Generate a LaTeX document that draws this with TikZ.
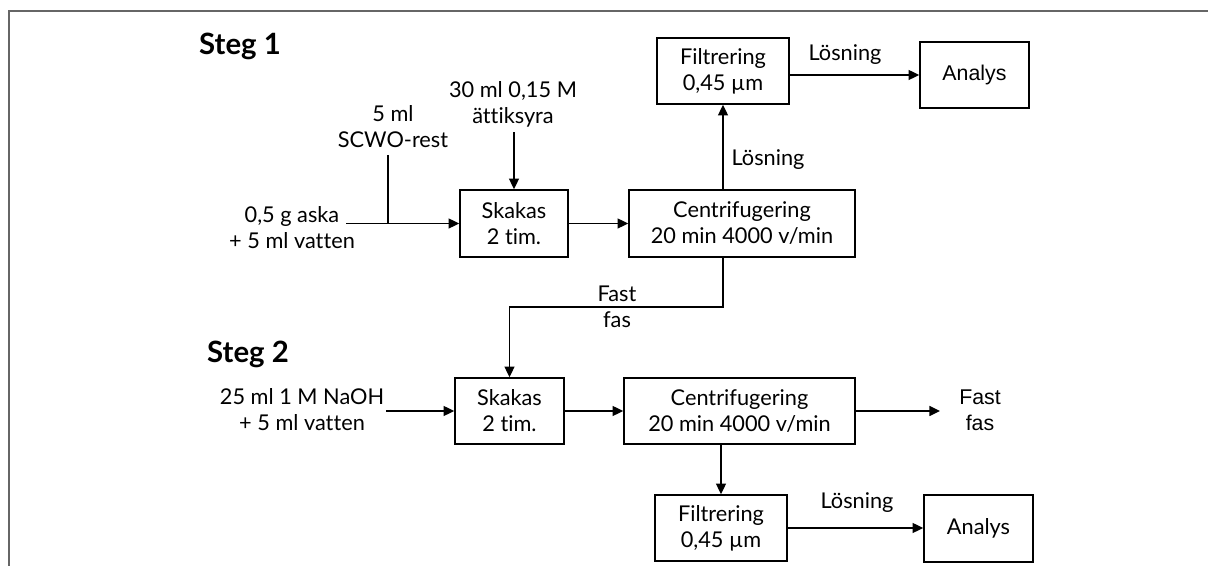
\documentclass[tikz,border=0pt]{standalone}
\usepackage{fontspec}
\setmainfont{Lato}[Ligatures=NoCommon]
\newfontfamily\arialf{Liberation Sans}
\usetikzlibrary{arrows.meta}
\begin{document}
\begin{tikzpicture}[x=0.75pt,y=-0.75pt,
  box/.style={draw=black,line width=1.2pt,rectangle,inner sep=0pt,align=center,font=\fontsize{16.3}{19.5}\selectfont},
  lbl/.style={inner sep=0pt,align=center,font=\fontsize{16.3}{19.5}\selectfont},
  ttl/.style={inner sep=0pt,font=\fontsize{22}{26}\selectfont\bfseries},
  arr/.style={line width=1.1pt,-{Triangle[length=8pt,width=7.5pt]}},
  ln/.style={line width=1.1pt}]
\useasboundingbox (0,0) rectangle (1208,566);
\draw[line width=1.5pt,color=black!60] (9,566) -- (9,11) -- (1208,11);
% titles
\node[ttl] (steg1) at (240,46) {Steg 1};
\node[ttl] (steg2) at (248,354) {Steg 2};
% boxes
\node[box,minimum width=99pt,minimum height=49.5pt] (filt1) at (723,71) {Filtrering\\0,45 µm};
\node[box,minimum width=81.75pt,minimum height=49.5pt,font=\fontsize{16}{19.5}\selectfont\arialf] (ana1) at (974.5,75) {Analys};
\node[box,minimum width=81pt,minimum height=50.25pt] (skak1) at (514,223.5) {Skakas\\2 tim.};
\node[box,minimum width=169.5pt,minimum height=50.25pt] (cent1) at (742,223.5) {Centrifugering\\20 min 4000 v/min};
\node[box,minimum width=81.75pt,minimum height=49.5pt] (skak2) at (509.5,411) {Skakas\\2 tim.};
\node[box,minimum width=173.25pt,minimum height=49.5pt] (cent2) at (739.5,411) {Centrifugering\\20 min 4000 v/min};
\node[box,minimum width=99pt,minimum height=49.5pt] (filt2) at (721,528) {Filtrering\\0,45 µm};
\node[box,minimum width=81.75pt,minimum height=50.25pt] (ana2) at (978.5,528.5) {Analys};
% input labels
\node[lbl] (ask) at (292,228) {0,5 g aska\\+ 5 ml vatten};
\node[lbl] (scwo) at (393,127) {5 ml\\SCWO-rest};
\node[lbl] (acid) at (513,104) {30 ml 0,15 M\\ättiksyra};
\node[lbl] (naoh) at (302,410) {25 ml 1 M NaOH\\+ 5 ml vatten};
\node[lbl,font=\fontsize{16}{19.5}\selectfont\arialf] (fast2) at (980,410) {Fast\\fas};
% connector labels
\node[lbl] (los1) at (845,55) {Lösning};
\node[lbl] (los2) at (768,160) {Lösning};
\node[lbl] (los3) at (857,503) {Lösning};
\node[lbl] (fast1) at (617,307) {Fast\\fas};
% coordinates
\coordinate (in1) at (346,223.5);
\coordinate (j1) at (388,223.5);
\coordinate (k) at (723,307);
\coordinate (in2) at (386,411);
\coordinate (out2) at (940,411);
% connectors
\draw[arr] (in1) -- (skak1.west);
\draw[ln] (j1 |- 0,155) -- (j1);
\draw[arr] (acid.south -| skak1.north) ++(0,5) -- (skak1.north);
\draw[arr] (skak1.east) -- (cent1.west);
\draw[arr] (cent1.north -| filt1.south) -- (filt1.south);
\draw[arr] (filt1.east |- ana1.west) -- (ana1.west);
\draw[arr] (cent1.south -| k) -- (k) -- (k -| skak2.north) -- (skak2.north);
\draw[arr] (in2) -- (skak2.west);
\draw[arr] (skak2.east) -- (cent2.west);
\draw[arr] (cent2.east) -- (out2);
\draw[arr] (cent2.south -| filt2.north) -- (filt2.north);
\draw[arr] (filt2.east) -- (filt2.east -| ana2.west);
\end{tikzpicture}
\end{document}
